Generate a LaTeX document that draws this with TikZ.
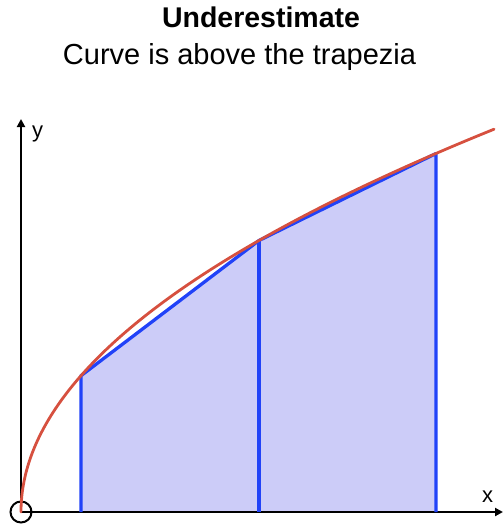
\documentclass[tikz,border=0pt]{standalone}
\usepackage{fontspec}
\setmainfont{Liberation Sans}
\usetikzlibrary{arrows.meta, positioning}
\definecolor{CurveRed}{HTML}{D6503F}
\definecolor{TrapBlue}{HTML}{2142F8}
\definecolor{TrapFill}{HTML}{CCCCF8}

\begin{document}
\begin{tikzpicture}[x=1pt, y=-1pt,
    axis/.style={line width=2pt, black, -{Triangle[length=8pt, width=8pt]}},
    curve/.style={line width=2.8pt, CurveRed, line cap=round},
    trap/.style={line width=3.3pt, TrapBlue, line join=round},
    alabel/.style={font=\fontsize{22}{26}\selectfont, inner sep=0pt},
    origin/.style={circle, draw, line width=2pt, minimum size=21pt, inner sep=0pt}
]
\useasboundingbox (0,0) rectangle (503,524);

% Title
\node[anchor=base, inner sep=0pt, font=\fontsize{28.5}{34}\selectfont\bfseries] (title) at (261,28) {Underestimate};
\node[anchor=base, inner sep=0pt, font=\fontsize{29}{34}\selectfont] (subtitle) at (239.5,65) {Curve is above the trapezia};

% Axes
\node[origin] (orig) at (21,512) {};
\coordinate (ytip) at (21,119);
\coordinate (xtip) at (503,512);

% Strip edges and curve points
\coordinate (a0) at (81,512);
\coordinate (a1) at (81,375.7);
\coordinate (b0) at (259,512);
\coordinate (b1) at (259,240.5);
\coordinate (c0) at (436,512);
\coordinate (c1) at (436,153.5);

% Trapezia
\fill[TrapFill] (a0) -- (a1) -- (b1) -- (c1) -- (c0) -- cycle;
\draw[axis] (orig.center) -- (ytip);
\draw[axis] (orig.center) -- (xtip);
\draw[trap] (a0) -- (a1) -- (b1) -- (c1) -- (c0);
\draw[trap] (b0) -- (b1);

% Curve
\draw[curve] plot[domain=0:21.75, samples=120, smooth] ({21+\x*\x}, {512-17.6*\x});

% Labels
\node[alabel, anchor=base west] (ylab) at (32,137) {y};
\node[alabel, anchor=base west] (xlab) at (482,502) {x};
\end{tikzpicture}
\end{document}
